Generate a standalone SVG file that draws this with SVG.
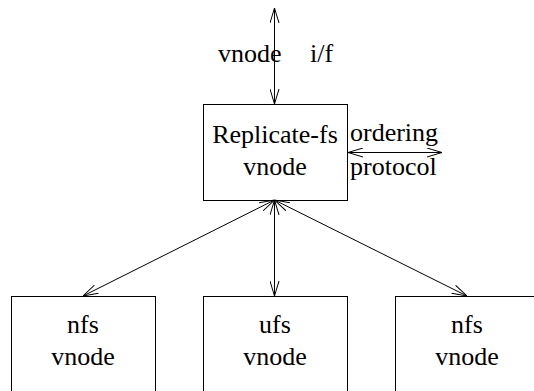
<svg xmlns="http://www.w3.org/2000/svg" width="534" height="391" viewBox="0 0 534 391">
<defs>
<marker id="ah" viewBox="0 0 15 10" refX="15" refY="5" markerWidth="15" markerHeight="10" markerUnits="userSpaceOnUse" orient="auto-start-reverse">
<path d="M0,0.5 L15,5 L0,9.5" fill="none" stroke="#000" stroke-width="1"/>
</marker>
<style>
.box{fill:#fff;stroke:#000;stroke-width:1}
.t{font-family:"Liberation Serif","Times New Roman",serif;font-size:26px;fill:#000}
.c{text-anchor:middle}
.ln{stroke:#000;stroke-width:1;fill:none;marker-start:url(#ah);marker-end:url(#ah)}
</style>
</defs>
<rect width="534" height="391" fill="#fff"/>
<g id="replicate">
<rect class="box" x="203.5" y="104.5" width="144" height="96"/>
<text class="t c" x="275" y="143">Replicate-fs</text>
<text class="t c" x="275" y="175">vnode</text>
</g>
<g id="nfs1">
<rect class="box" x="11.5" y="296.5" width="144" height="110"/>
<text class="t c" x="83" y="333">nfs</text>
<text class="t c" x="83" y="365">vnode</text>
</g>
<g id="ufs">
<rect class="box" x="203.5" y="296.5" width="144" height="110"/>
<text class="t c" x="275" y="333">ufs</text>
<text class="t c" x="275" y="365">vnode</text>
</g>
<g id="nfs2">
<rect class="box" x="395.5" y="296.5" width="144" height="110"/>
<text class="t c" x="467" y="333">nfs</text>
<text class="t c" x="467" y="365">vnode</text>
</g>
<g id="labels">
<text class="t" x="218" y="62">vnode</text>
<text class="t" x="310" y="62">i/f</text>
<text class="t" x="350" y="141">ordering</text>
<text class="t" x="350" y="175">protocol</text>
</g>
<g id="connectors">
<line class="ln" x1="274.5" y1="8" x2="274.5" y2="104"/>
<line class="ln" x1="348" y1="152.5" x2="442" y2="152.5"/>
<line class="ln" x1="274.5" y1="200" x2="274.5" y2="296"/>
<line class="ln" x1="274.5" y1="200" x2="83" y2="296"/>
<line class="ln" x1="274.5" y1="200" x2="467" y2="296"/>
</g>
</svg>
